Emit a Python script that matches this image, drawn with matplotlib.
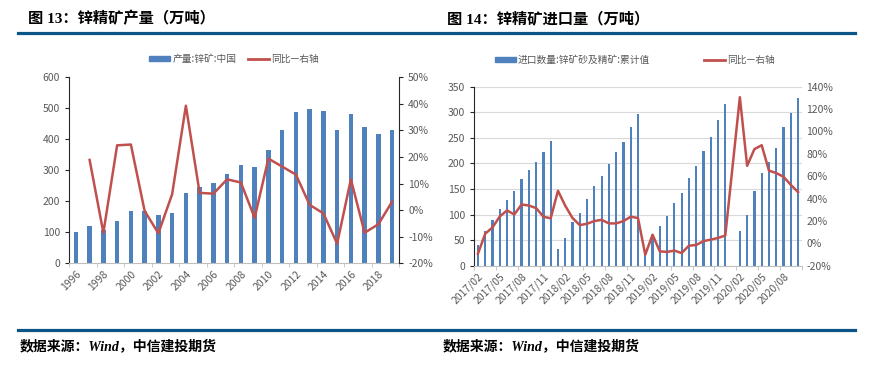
import numpy as np
import matplotlib.pyplot as plt
from matplotlib.lines import Line2D
from matplotlib.patches import Patch
from matplotlib.ticker import FuncFormatter, FixedLocator

plt.rcParams['font.family'] = ['Liberation Sans Narrow', 'Noto Sans CJK SC', 'DejaVu Sans']

# ---- chart 13: zinc concentrate output (10k t) ----
years = list(range(1996, 2020))
output = [100, 119, 108, 136, 169, 169, 155, 162, 228, 245, 259, 288,
          318, 310, 367, 429, 487, 498, 491, 429, 481, 440, 416, 429]
output_yoy = [np.nan, 18.9, -8.5, 24.4, 24.7, -0.3, -8.7, 6.0, 39.3, 6.5, 6.2, 11.6,
              10.4, -2.9, 19.4, 16.4, 13.4, 2.0, -1.2, -12.6, 11.6, -8.5, -5.3, 3.2]

# ---- chart 14: zinc ore & concentrate imports, cumulative (10k t) ----
months = ['2017/02', '2017/03', '2017/04', '2017/05', '2017/06', '2017/07', '2017/08',
          '2017/09', '2017/10', '2017/11', '2017/12',
          '2018/01', '2018/02', '2018/03', '2018/04', '2018/05', '2018/06', '2018/07',
          '2018/08', '2018/09', '2018/10', '2018/11', '2018/12',
          '2019/01', '2019/02', '2019/03', '2019/04', '2019/05', '2019/06', '2019/07',
          '2019/08', '2019/09', '2019/10', '2019/11', '2019/12',
          '2020/01', '2020/02', '2020/03', '2020/04', '2020/05', '2020/06', '2020/07',
          '2020/08', '2020/09', '2020/10']
imports = [41, 68, 90, 111, 128, 146, 169, 188, 203, 222, 243,
           33, 54, 85, 104, 131, 155, 176, 199, 222, 242, 272, 297,
           29, 58, 78, 97, 123, 142, 171, 195, 225, 251, 285, 317,
           np.nan, 68, 99, 146, 181, 202, 230, 271, 298, 327]
imports_yoy = [-9.3, 8.6, 14.2, 24.0, 29.4, 25.8, 34.7, 33.8, 31.5, 23.8, 22.3,
               47.0, 33.6, 22.6, 16.3, 17.5, 19.9, 21.0, 17.8, 17.8, 19.9, 23.8, 22.6,
               -10.2, 7.7, -7.2, -7.7, -6.5, -8.7, -2.1, -1.5, 2.0, 3.3, 4.8, 7.0,
               np.nan, 130.6, 69.3, 84.2, 87.7, 65.0, 62.8, 59.5, 52.3, 45.8]

BAR = '#4f81bd'
LINE = '#c0504d'
GRAY = '#595959'
NAVY = '#0b5486'

fig = plt.figure(figsize=(8.78, 3.76), dpi=100)


def pct(v, pos):
    return '%d%%' % round(v)


def style_axes(ax, ax2, spine_right):
    for s in ['top']:
        ax.spines[s].set_visible(False)
        ax2.spines[s].set_visible(False)
    ax.spines['left'].set_color('#262626')
    ax.spines['bottom'].set_color('#bfbfbf')
    ax2.spines['bottom'].set_visible(False)
    ax2.spines['left'].set_visible(False)
    ax.spines['right'].set_visible(False)
    if spine_right:
        ax2.spines['right'].set_color('#262626')
    else:
        ax2.spines['right'].set_visible(False)
    ax.tick_params(axis='y', colors='#262626', labelcolor=GRAY, labelsize=7.5, length=3, width=0.8)
    ax2.tick_params(axis='y', colors='#262626', labelcolor=GRAY, labelsize=7.5,
                    length=3 if spine_right else 0, width=0.8)
    ax.tick_params(axis='x', which='major', length=0, labelcolor=GRAY, labelsize=7.5, pad=4)
    ax.tick_params(axis='x', which='minor', length=3, color='#bfbfbf')


# ---------------- left chart ----------------
ax = fig.add_axes([69 / 878, 1 - 263.3 / 376, 330 / 878, 186 / 376])
x = np.arange(len(years))
ax.bar(x, output, width=0.33, color=BAR, zorder=2)
ax.set_xlim(-0.5, len(years) - 0.5)
ax.set_ylim(0, 600)
ax.set_yticks(range(0, 601, 100))
ax.set_xticks(x[::2])
ax.set_xticklabels([str(y) for y in years[::2]], rotation=45, ha='right', va='top',
                   rotation_mode='anchor')
ax.xaxis.set_minor_locator(FixedLocator(np.arange(-0.5, len(years), 2)))
ax2 = ax.twinx()
ax2.plot(x, output_yoy, color=LINE, lw=1.8, zorder=3)
ax2.set_ylim(-20, 50)
ax2.set_yticks(range(-20, 51, 10))
ax2.yaxis.set_major_formatter(FuncFormatter(pct))
style_axes(ax, ax2, True)

handles = [Patch(color=BAR), Line2D([], [], color=LINE, lw=2)]
leg = ax.legend(handles, ['产量:锌矿:中国', '同比—右轴'], ncol=2, frameon=False,
                loc='center', bbox_to_anchor=(0.5, 1 + (263.3 - 59) / 186 - 1),
                fontsize=7, handlelength=2.2, handleheight=0.5, columnspacing=1.2,
                handletextpad=0.2, labelcolor=GRAY)
for t in leg.get_texts():
    t.set_family(['Noto Sans CJK SC'])

# ---------------- right chart ----------------
bx = fig.add_axes([474.3 / 878, 1 - 265.7 / 376, 327.4 / 878, 179 / 376])
m = np.arange(len(months))
bx.bar(m, imports, width=0.3, color=BAR, zorder=2)
bx.set_xlim(-0.5, len(months) - 0.5)
bx.set_ylim(0, 350)
bx.set_yticks(range(0, 351, 50))
bx.grid(axis='y', color='#d9d9d9', lw=0.8, zorder=0)
bx.set_axisbelow(True)
bx.set_xticks(m[::3])
bx.set_xticklabels(months[::3], rotation=45, ha='right', va='top', rotation_mode='anchor')
bx.xaxis.set_minor_locator(FixedLocator(np.arange(-0.5, len(months), 3)))
bx2 = bx.twinx()
yoy = np.array(imports_yoy)
ok = ~np.isnan(yoy)
bx2.plot(m[ok], yoy[ok], color=LINE, lw=1.8, zorder=3)
bx2.set_ylim(-20, 140)
bx2.set_yticks(range(-20, 141, 20))
bx2.yaxis.set_major_formatter(FuncFormatter(pct))
style_axes(bx, bx2, False)

leg2 = bx.legend(handles, ['进口数量:锌矿砂及精矿:累计值', '同比—右轴'], ncol=2, frameon=False,
                 loc='center', bbox_to_anchor=(0.49, 1 + (265.7 - 60) / 179 - 1),
                 fontsize=7, handlelength=2.2, handleheight=0.5, columnspacing=5.5,
                 handletextpad=0.2, labelcolor=GRAY)
for t in leg2.get_texts():
    t.set_family(['Noto Sans CJK SC'])

# ---------------- titles, rules, source ----------------
title_font = ['Liberation Serif', 'Noto Sans CJK SC']
fig.text(28 / 878, 1 - 18.5 / 376, '图 13：锌精矿产量（万吨）', family=title_font,
         weight='bold', fontsize=11, va='center', ha='left')
fig.text(447 / 878, 1 - 18.5 / 376, '图 14：锌精矿进口量（万吨）', family=title_font,
         weight='bold', fontsize=11, va='center', ha='left')
fig.add_artist(Line2D([18 / 878, 855 / 878], [1 - 33.3 / 376] * 2, color=NAVY, lw=2.3))
fig.add_artist(Line2D([18 / 878, 855 / 878], [1 - 330 / 376] * 2, color=NAVY, lw=2.3))
fig.text(20 / 878, 1 - 346 / 376, '数据来源：Wind，中信建投期货', family=title_font,
         weight='bold', style='italic', fontsize=10, va='center', ha='left')
fig.text(443 / 878, 1 - 346 / 376, '数据来源：Wind，中信建投期货', family=title_font,
         weight='bold', style='italic', fontsize=10, va='center', ha='left')

fig.savefig('out.png', dpi=100)
